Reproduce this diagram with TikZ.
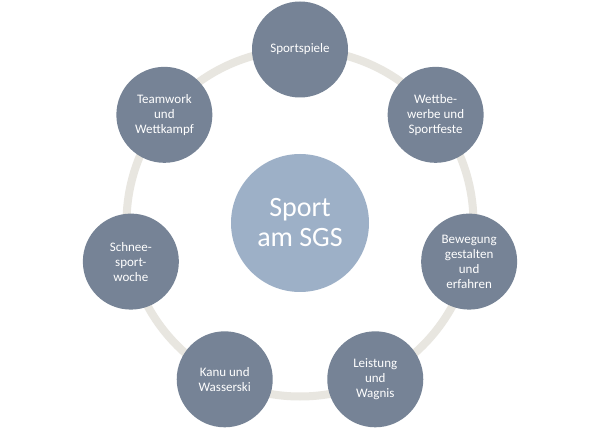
\documentclass[tikz,border=0pt]{standalone}
\usepackage{fontspec}
\setmainfont{Carlito}
\usetikzlibrary{calc}
\definecolor{ringcol}{HTML}{E8E6E0}
\definecolor{satcol}{HTML}{768396}
\definecolor{hubcol}{HTML}{9DB0C7}
\tikzset{
  ringline/.style={draw=ringcol, line width=8pt},
  satellite/.style={circle, fill=satcol, minimum size=96pt, inner sep=0pt,
    text=white, align=center, font=\fontsize{13}{15}\selectfont},
  hubnode/.style={circle, fill=hubcol, minimum size=138pt, inner sep=0pt,
    text=white, align=center, font=\fontsize{28}{30}\selectfont}
}
\begin{document}
\begin{tikzpicture}[x=1pt,y=-1pt]
\useasboundingbox (0,0) rectangle (600,430);
\fill[white] (0,0) rectangle (600,430);
\coordinate (c) at (300,223);
\draw[ringline] (c) circle[radius=173.5pt];
\node[hubnode] (hub) at (c) {Sport\\am SGS};
\node[satellite] (s0) at ($(c)+(-90:173.5)$) {Sportspiele};
\node[satellite] (s1) at ($(c)+(-38.571:173.5)$) {Wettbe-\\werbe und\\Sportfeste};
\node[satellite] (s2) at ($(c)+(12.857:173.5)$) {Bewegung\\gestalten\\und\\erfahren};
\node[satellite] (s3) at ($(c)+(64.286:173.5)$) {Leistung\\und\\Wagnis};
\node[satellite] (s4) at ($(c)+(115.714:173.5)$) {Kanu und\\Wasserski};
\node[satellite] (s5) at ($(c)+(167.143:173.5)$) {Schnee-\\sport-\\woche};
\node[satellite] (s6) at ($(c)+(218.571:173.5)$) {Teamwork\\und\\Wettkampf};
\end{tikzpicture}
\end{document}
